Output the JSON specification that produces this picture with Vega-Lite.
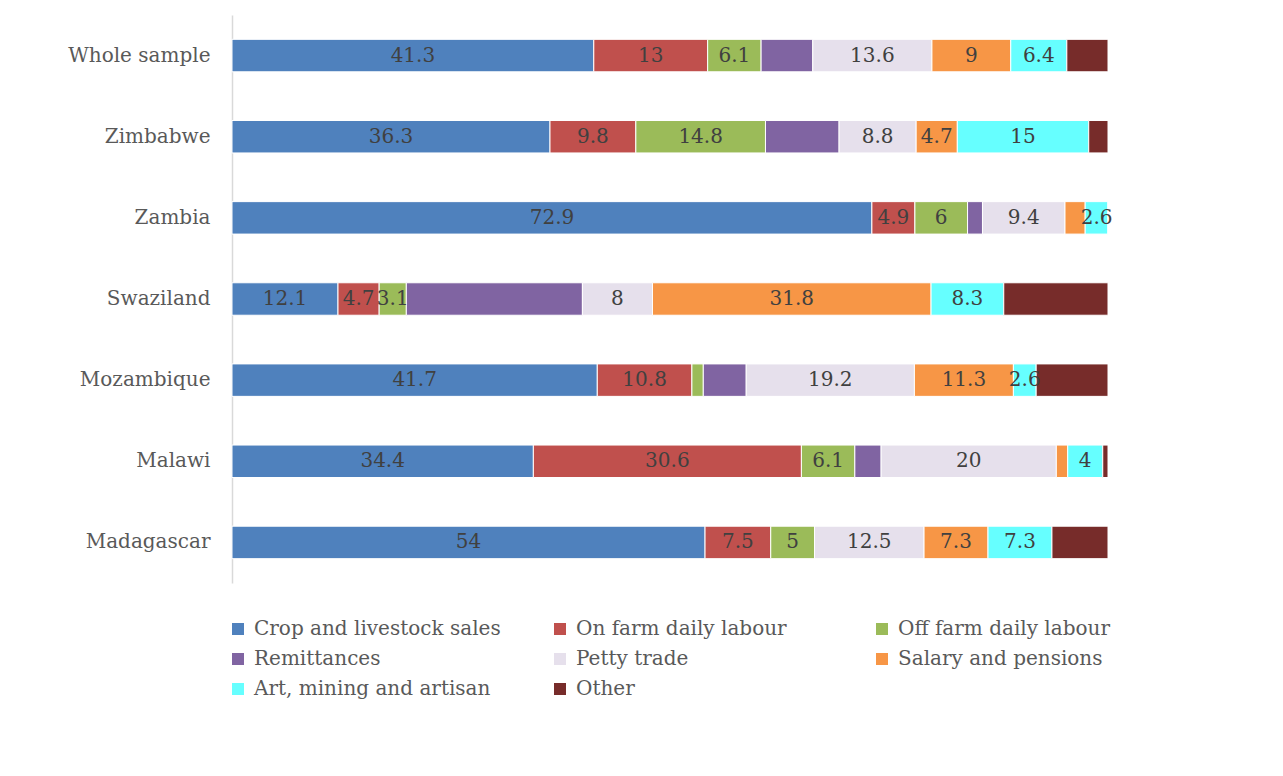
{
  "$schema": "https://vega.github.io/schema/vega-lite/v6.json",
  "width": 876,
  "height": 568,
  "autosize": "none",
  "padding": {"left": 232, "top": 15, "right": 175, "bottom": 193},
  "background": "white",
  "config": {
    "view": {"stroke": null},
    "font": "DejaVu Serif"
  },
  "data": {
    "values": [
      {"region": "Whole sample", "source": "Crop and livestock sales", "o": 1, "share": 41.3},
      {"region": "Whole sample", "source": "On farm daily labour", "o": 2, "share": 13},
      {"region": "Whole sample", "source": "Off farm daily labour", "o": 3, "share": 6.1},
      {"region": "Whole sample", "source": "Remittances", "o": 4, "share": 5.9},
      {"region": "Whole sample", "source": "Petty trade", "o": 5, "share": 13.6},
      {"region": "Whole sample", "source": "Salary and pensions", "o": 6, "share": 9},
      {"region": "Whole sample", "source": "Art, mining and artisan", "o": 7, "share": 6.4},
      {"region": "Whole sample", "source": "Other", "o": 8, "share": 4.7},
      {"region": "Zimbabwe", "source": "Crop and livestock sales", "o": 1, "share": 36.3},
      {"region": "Zimbabwe", "source": "On farm daily labour", "o": 2, "share": 9.8},
      {"region": "Zimbabwe", "source": "Off farm daily labour", "o": 3, "share": 14.8},
      {"region": "Zimbabwe", "source": "Remittances", "o": 4, "share": 8.4},
      {"region": "Zimbabwe", "source": "Petty trade", "o": 5, "share": 8.8},
      {"region": "Zimbabwe", "source": "Salary and pensions", "o": 6, "share": 4.7},
      {"region": "Zimbabwe", "source": "Art, mining and artisan", "o": 7, "share": 15},
      {"region": "Zimbabwe", "source": "Other", "o": 8, "share": 2.2},
      {"region": "Zambia", "source": "Crop and livestock sales", "o": 1, "share": 72.9},
      {"region": "Zambia", "source": "On farm daily labour", "o": 2, "share": 4.9},
      {"region": "Zambia", "source": "Off farm daily labour", "o": 3, "share": 6},
      {"region": "Zambia", "source": "Remittances", "o": 4, "share": 1.7},
      {"region": "Zambia", "source": "Petty trade", "o": 5, "share": 9.4},
      {"region": "Zambia", "source": "Salary and pensions", "o": 6, "share": 2.3},
      {"region": "Zambia", "source": "Art, mining and artisan", "o": 7, "share": 2.6},
      {"region": "Zambia", "source": "Other", "o": 8, "share": 0},
      {"region": "Swaziland", "source": "Crop and livestock sales", "o": 1, "share": 12.1},
      {"region": "Swaziland", "source": "On farm daily labour", "o": 2, "share": 4.7},
      {"region": "Swaziland", "source": "Off farm daily labour", "o": 3, "share": 3.1},
      {"region": "Swaziland", "source": "Remittances", "o": 4, "share": 20.1},
      {"region": "Swaziland", "source": "Petty trade", "o": 5, "share": 8},
      {"region": "Swaziland", "source": "Salary and pensions", "o": 6, "share": 31.8},
      {"region": "Swaziland", "source": "Art, mining and artisan", "o": 7, "share": 8.3},
      {"region": "Swaziland", "source": "Other", "o": 8, "share": 11.9},
      {"region": "Mozambique", "source": "Crop and livestock sales", "o": 1, "share": 41.7},
      {"region": "Mozambique", "source": "On farm daily labour", "o": 2, "share": 10.8},
      {"region": "Mozambique", "source": "Off farm daily labour", "o": 3, "share": 1.3},
      {"region": "Mozambique", "source": "Remittances", "o": 4, "share": 4.9},
      {"region": "Mozambique", "source": "Petty trade", "o": 5, "share": 19.2},
      {"region": "Mozambique", "source": "Salary and pensions", "o": 6, "share": 11.3},
      {"region": "Mozambique", "source": "Art, mining and artisan", "o": 7, "share": 2.6},
      {"region": "Mozambique", "source": "Other", "o": 8, "share": 8.2},
      {"region": "Malawi", "source": "Crop and livestock sales", "o": 1, "share": 34.4},
      {"region": "Malawi", "source": "On farm daily labour", "o": 2, "share": 30.6},
      {"region": "Malawi", "source": "Off farm daily labour", "o": 3, "share": 6.1},
      {"region": "Malawi", "source": "Remittances", "o": 4, "share": 3},
      {"region": "Malawi", "source": "Petty trade", "o": 5, "share": 20},
      {"region": "Malawi", "source": "Salary and pensions", "o": 6, "share": 1.3},
      {"region": "Malawi", "source": "Art, mining and artisan", "o": 7, "share": 4},
      {"region": "Malawi", "source": "Other", "o": 8, "share": 0.6},
      {"region": "Madagascar", "source": "Crop and livestock sales", "o": 1, "share": 54},
      {"region": "Madagascar", "source": "On farm daily labour", "o": 2, "share": 7.5},
      {"region": "Madagascar", "source": "Off farm daily labour", "o": 3, "share": 5},
      {"region": "Madagascar", "source": "Remittances", "o": 4, "share": 0},
      {"region": "Madagascar", "source": "Petty trade", "o": 5, "share": 12.5},
      {"region": "Madagascar", "source": "Salary and pensions", "o": 6, "share": 7.3},
      {"region": "Madagascar", "source": "Art, mining and artisan", "o": 7, "share": 7.3},
      {"region": "Madagascar", "source": "Other", "o": 8, "share": 6.4}
    ]
  },
  "encoding": {
    "y": {
      "field": "region",
      "type": "nominal",
      "sort": ["Whole sample", "Zimbabwe", "Zambia", "Swaziland", "Mozambique", "Malawi", "Madagascar"],
      "scale": {"paddingInner": 0.6, "paddingOuter": 0.3},
      "axis": {
        "title": null,
        "ticks": false,
        "domain": true,
        "domainColor": "#d9d9d9",
        "domainWidth": 1.5,
        "labelFont": "DejaVu Serif",
        "labelFontSize": 20,
        "labelColor": "#595959",
        "labelPadding": 22
      }
    }
  },
  "layer": [
    {
      "mark": {"type": "bar", "stroke": "white", "strokeWidth": 1},
      "encoding": {
        "x": {
          "field": "share",
          "type": "quantitative",
          "stack": "normalize",
          "scale": {"domain": [0, 1]},
          "axis": null
        },
        "order": {"field": "o", "type": "quantitative"},
        "color": {
          "field": "source",
          "type": "nominal",
          "sort": ["Crop and livestock sales", "On farm daily labour", "Off farm daily labour", "Remittances", "Petty trade", "Salary and pensions", "Art, mining and artisan", "Other"],
          "scale": {
            "domain": ["Crop and livestock sales", "On farm daily labour", "Off farm daily labour", "Remittances", "Petty trade", "Salary and pensions", "Art, mining and artisan", "Other"],
            "range": ["#4f81bd", "#c0504d", "#9bbb59", "#8064a2", "#e6e0ec", "#f79646", "#66ffff", "#772c2a"]
          },
          "legend": {
            "title": null,
            "orient": "none",
            "legendX": -4,
            "legendY": 604,
            "direction": "horizontal",
            "columns": 3,
            "gridAlign": "all",
            "columnPadding": 49,
            "rowPadding": 10,
            "symbolType": "square",
            "symbolSize": 144,
            "symbolStrokeWidth": 0,
            "labelFont": "DejaVu Serif",
            "labelFontSize": 20,
            "labelColor": "#595959",
            "labelOffset": 6,
            "labelLimit": 400
          }
        }
      }
    },
    {
      "transform": [
        {"stack": "share", "groupby": ["region"], "sort": [{"field": "o"}], "offset": "normalize", "as": ["s0", "s1"]},
        {"calculate": "(datum.s0 + datum.s1) / 2", "as": "mid"},
        {"filter": "datum.source !== 'Remittances' && datum.source !== 'Other' && datum.share >= 2.5"}
      ],
      "mark": {"type": "text", "font": "DejaVu Serif", "fontSize": 20, "color": "#404040"},
      "encoding": {
        "x": {"field": "mid", "type": "quantitative", "scale": {"domain": [0, 1]}},
        "text": {"field": "share", "type": "quantitative"}
      }
    }
  ]
}
